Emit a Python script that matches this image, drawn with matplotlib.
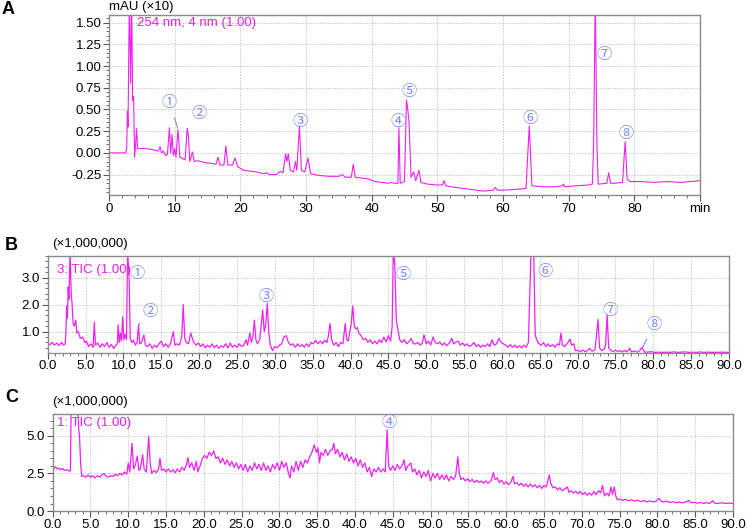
import matplotlib
matplotlib.use('Agg')
import matplotlib.pyplot as plt
from matplotlib.ticker import MultipleLocator, FormatStrFormatter, FixedLocator

plt.rcParams['font.family'] = ['Liberation Sans', 'DejaVu Sans', 'Noto Sans CJK JP']

# ---- A: UV trace at 254 nm, mAU (x10) vs min ----
a_points = [
    (0, 0.0), (2.5, 0.0), (2.7, 0.05), (2.8, 0.48), (2.9, 0.3), (3.1, 1.8), (3.3, 0.8), (3.45, 1.8),
    (3.6, 0.6), (3.75, 0.65), (3.9, -0.05), (4.05, 0.1), (4.2, 0.28), (4.35, 0.05), (4.6, 0.05),
    (5.5, 0.05), (6.5, 0.04), (7.5, 0.02), (7.8, 0.07), (8.0, 0.0), (8.3, 0.02), (8.6, -0.03),
    (8.9, -0.02), (9.2, 0.29), (9.4, 0.0), (9.6, 0.21), (9.8, -0.03), (10.0, 0.05), (10.2, -0.05),
    (10.5, 0.27), (10.8, -0.05), (11.3, -0.07), (11.6, -0.08), (11.9, 0.28), (12.1, 0.2), (12.3, -0.1),
    (12.7, 0.01), (13.0, -0.1), (13.5, -0.09), (14.5, -0.11), (15.5, -0.12), (16.3, -0.13), (16.6, -0.05),
    (16.9, -0.14), (17.5, -0.14), (17.8, 0.08), (18.1, -0.14), (18.8, -0.14), (19.2, -0.06), (19.6, -0.16),
    (20.5, -0.2), (21.5, -0.21), (22.5, -0.22), (23.5, -0.24), (24, -0.23), (24.4, -0.25), (25.5, -0.25),
    (26.1, -0.21), (26.5, -0.23), (26.9, -0.01), (27.1, -0.1), (27.3, -0.01), (27.6, -0.2), (28.1, -0.22),
    (28.4, -0.1), (28.6, -0.2), (29.0, 0.31), (29.3, -0.2), (29.8, -0.22), (30.3, -0.06), (30.7, -0.24),
    (32, -0.26), (33.5, -0.27), (35, -0.27), (35.5, -0.25), (36, -0.28), (36.9, -0.28), (37.2, -0.13),
    (37.5, -0.28), (38.5, -0.29), (39.5, -0.3), (40.5, -0.33), (41.5, -0.34), (42.5, -0.35), (43, -0.34),
    (43.5, -0.35), (44.0, -0.35), (44.15, 0.29), (44.35, -0.35), (45.0, -0.33), (45.3, 0.61), (45.5, 0.5),
    (45.7, 0.35), (46.0, -0.28), (46.4, -0.22), (46.7, -0.32), (47.2, -0.2), (47.5, -0.34), (48.5, -0.36),
    (50, -0.37), (50.8, -0.37), (51.0, -0.32), (51.3, -0.38), (53, -0.4), (55, -0.42), (57, -0.44),
    (58.5, -0.43), (58.8, -0.4), (59.2, -0.43), (60, -0.43), (62, -0.42), (63.5, -0.41), (64.0, 0.31),
    (64.4, -0.38), (66, -0.39), (68, -0.39), (69.0, -0.38), (69.2, -0.36), (69.4, -0.39), (71, -0.38),
    (73, -0.37), (73.6, -0.36), (73.8, 0.1), (74.05, 1.8), (74.3, 0.1), (74.5, -0.36), (75.8, -0.35),
    (76.1, -0.23), (76.4, -0.35), (77, -0.35), (78.2, -0.34), (78.6, 0.13), (78.9, -0.3), (79.3, -0.33),
    (81, -0.33), (83, -0.34), (85, -0.33), (87, -0.34), (90, -0.32),
]

# ---- B: TIC 3 (x1,000,000) ----
b_points = [
    (0.0, 0.58), (0.3, 0.52), (0.6, 0.6), (0.9, 0.5), (1.2, 0.58), (1.5, 0.48), (1.8, 0.6), (2.1, 0.5),
    (2.3, 0.55), (2.4, 0.95), (2.5, 1.95), (2.6, 1.5), (2.7, 2.65), (2.8, 2.2), (2.95, 4.0), (3.1, 2.4),
    (3.2, 2.1), (3.35, 1.3), (3.5, 1.2), (3.7, 1.43), (3.85, 0.95), (4.05, 1.0), (4.3, 0.75), (4.6, 0.8),
    (4.9, 0.6), (5.1, 0.65), (5.4, 0.45), (5.7, 0.55), (6.0, 0.42), (6.15, 1.35), (6.3, 0.5), (6.6, 0.58),
    (6.9, 0.42), (7.2, 0.55), (7.5, 0.45), (7.8, 0.6), (8.1, 0.42), (8.4, 0.52), (8.7, 0.38), (9.0, 0.5),
    (9.2, 0.55), (9.3, 1.25), (9.45, 0.6), (9.6, 0.95), (9.75, 0.65), (9.9, 1.55), (10.05, 0.7), (10.2, 0.9),
    (10.4, 0.7), (10.55, 4.0), (10.75, 3.0), (10.9, 0.75), (11.1, 0.6), (11.3, 0.68), (11.6, 0.5), (11.8, 0.6),
    (12.0, 1.25), (12.15, 0.55), (12.4, 0.6), (12.7, 0.88), (12.9, 0.5), (13.2, 0.45), (13.5, 0.55), (13.8, 0.38),
    (14.1, 0.5), (14.4, 0.42), (14.7, 0.55), (15.0, 0.65), (15.3, 0.45), (15.6, 0.55), (15.9, 0.42), (16.2, 0.55),
    (16.6, 1.0), (16.8, 0.5), (17.1, 0.55), (17.4, 0.5), (17.7, 0.8), (17.9, 2.0), (18.1, 0.75), (18.3, 0.6),
    (18.6, 0.55), (18.9, 0.95), (19.1, 0.75), (19.3, 0.6), (19.6, 0.5), (19.9, 0.58), (20.2, 0.45), (20.5, 0.55),
    (20.8, 0.4), (21.1, 0.5), (21.4, 0.42), (21.7, 0.55), (22.0, 0.4), (22.3, 0.5), (22.6, 0.38), (22.9, 0.48),
    (23.2, 0.42), (23.5, 0.55), (23.8, 0.4), (24.1, 0.58), (24.4, 0.42), (24.7, 0.5), (25.0, 0.42), (25.3, 0.55),
    (25.6, 0.45), (25.9, 0.5), (26.2, 0.7), (26.4, 0.5), (26.7, 0.95), (26.9, 0.6), (27.1, 0.8), (27.3, 1.43),
    (27.5, 0.7), (27.7, 0.55), (28.0, 0.7), (28.4, 1.8), (28.6, 1.0), (28.8, 1.25), (29.0, 2.05), (29.2, 1.0),
    (29.4, 0.5), (29.7, 0.3), (30.0, 0.45), (30.3, 0.4), (30.6, 0.5), (30.9, 0.55), (31.2, 0.8), (31.5, 0.85),
    (31.8, 0.6), (32.1, 0.5), (32.4, 0.55), (32.7, 0.42), (33.0, 0.55), (33.3, 0.45), (33.6, 0.52), (33.9, 0.42),
    (34.2, 0.55), (34.5, 0.45), (34.8, 0.6), (35.1, 0.55), (35.4, 0.68), (35.7, 0.55), (36.0, 0.65), (36.3, 0.55),
    (36.6, 0.68), (36.9, 0.6), (37.1, 0.9), (37.3, 1.3), (37.5, 0.7), (37.8, 0.5), (38.1, 0.6), (38.4, 0.45),
    (38.7, 0.6), (39.0, 0.55), (39.3, 1.3), (39.5, 0.7), (39.7, 0.65), (39.9, 1.0), (40.1, 1.3), (40.3, 1.95),
    (40.5, 1.2), (40.7, 1.1), (40.9, 1.15), (41.1, 0.95), (41.4, 0.85), (41.7, 0.7), (42.0, 0.75), (42.3, 0.6),
    (42.6, 0.7), (42.9, 0.55), (43.2, 0.65), (43.5, 0.55), (43.8, 0.7), (44.1, 0.6), (44.4, 0.8), (44.7, 0.62),
    (45.0, 0.85), (45.3, 0.65), (45.5, 1.2), (45.65, 4.0), (45.85, 3.5), (46.05, 1.4), (46.25, 1.1), (46.5, 0.7),
    (46.8, 0.6), (47.1, 0.7), (47.4, 0.55), (47.7, 0.62), (48.0, 0.75), (48.3, 0.55), (48.6, 0.55), (48.9, 0.6),
    (49.2, 0.5), (49.5, 0.58), (49.7, 0.88), (50.0, 0.55), (50.3, 0.65), (50.6, 0.5), (50.9, 0.8), (51.2, 0.6),
    (51.5, 0.55), (51.8, 0.62), (52.1, 0.5), (52.4, 0.58), (52.7, 0.48), (53.0, 0.56), (53.4, 0.75), (53.6, 0.55),
    (53.9, 0.6), (54.2, 0.65), (54.5, 0.5), (54.8, 0.58), (55.1, 0.48), (55.4, 0.55), (55.7, 0.45), (56.0, 0.5),
    (56.3, 0.6), (56.6, 0.45), (56.9, 0.52), (57.2, 0.42), (57.5, 0.5), (57.8, 0.45), (58.1, 0.55), (58.4, 0.45),
    (58.7, 0.7), (59.0, 0.5), (59.3, 0.55), (59.6, 0.75), (59.9, 0.6), (60.2, 0.55), (60.5, 0.5), (60.8, 0.42),
    (61.1, 0.52), (61.4, 0.42), (61.7, 0.5), (62.0, 0.4), (62.3, 0.48), (62.6, 0.4), (62.9, 0.5), (63.2, 0.42),
    (63.5, 0.6), (63.7, 2.5), (63.85, 4.0), (64.2, 4.0), (64.4, 0.88), (64.6, 0.7), (64.9, 0.55), (65.2, 0.5),
    (65.5, 0.6), (65.8, 0.45), (66.1, 0.55), (66.4, 0.45), (66.7, 0.52), (67.0, 0.42), (67.3, 0.55), (67.6, 0.5),
    (67.8, 0.95), (68.0, 0.5), (68.3, 0.45), (68.6, 0.55), (69.0, 0.72), (69.2, 0.5), (69.5, 0.55), (69.7, 0.3),
    (70.0, 0.3), (70.4, 0.26), (70.7, 0.32), (71.0, 0.26), (71.3, 0.3), (71.6, 0.38), (71.9, 0.28), (72.3, 0.32),
    (72.7, 1.45), (72.9, 0.4), (73.2, 0.3), (73.5, 0.35), (73.7, 0.5), (73.9, 1.62), (74.1, 0.4), (74.4, 0.3),
    (74.7, 0.26), (75.0, 0.32), (75.3, 0.26), (75.6, 0.3), (75.9, 0.25), (76.2, 0.3), (76.5, 0.26), (76.9, 0.38),
    (77.1, 0.25), (77.5, 0.28), (77.9, 0.24), (78.2, 0.3), (78.5, 0.42), (78.8, 0.25), (79.2, 0.24), (79.7, 0.26),
    (80.2, 0.23), (80.7, 0.24), (81.2, 0.23), (81.7, 0.24), (82.2, 0.23), (82.7, 0.25), (83.2, 0.23), (83.7, 0.24),
    (84.2, 0.25), (84.7, 0.23), (85.2, 0.24), (85.7, 0.23), (86.2, 0.25), (86.7, 0.23), (87.2, 0.24), (88.0, 0.23),
    (89.0, 0.24), (90.0, 0.23),
]

# ---- C: TIC 1 (x1,000,000) ----
c_points = [
    (0.0, 3.0), (0.2, 2.85), (0.4, 2.95), (0.6, 2.8), (0.8, 2.85), (1.0, 2.75), (1.3, 2.82), (1.6, 2.7),
    (1.9, 2.75), (2.2, 2.65), (2.35, 2.7), (2.45, 7.0), (2.6, 7.0), (3.1, 7.0), (3.3, 7.0), (3.45, 5.4),
    (3.55, 5.0), (3.7, 3.2), (3.85, 2.3), (4.1, 2.35), (4.4, 2.25), (4.7, 2.4), (5.0, 2.25), (5.3, 2.35),
    (5.6, 2.2), (5.9, 2.35), (6.2, 2.25), (6.5, 2.4), (6.8, 2.5), (7.1, 2.3), (7.4, 2.25), (7.7, 2.35),
    (8.0, 2.3), (8.3, 2.45), (8.6, 2.35), (8.9, 2.5), (9.2, 2.4), (9.5, 2.6), (9.8, 2.45), (10.0, 3.2),
    (10.2, 2.6), (10.5, 4.5), (10.7, 2.8), (10.9, 3.0), (11.2, 3.65), (11.4, 2.7), (11.6, 2.8), (11.9, 3.75),
    (12.1, 2.8), (12.4, 2.6), (12.7, 4.95), (12.9, 3.2), (13.1, 2.5), (13.4, 2.7), (13.7, 2.55), (14.0, 2.8),
    (14.2, 3.5), (14.4, 2.7), (14.7, 2.8), (15.0, 2.6), (15.3, 2.8), (15.6, 2.6), (15.9, 2.75), (16.2, 2.55),
    (16.5, 2.8), (16.8, 2.6), (17.1, 2.9), (17.4, 2.7), (17.7, 3.1), (17.9, 3.55), (18.1, 2.9), (18.4, 3.2),
    (18.7, 2.7), (19.0, 3.3), (19.2, 2.6), (19.5, 3.0), (19.8, 3.5), (20.1, 3.7), (20.4, 3.5), (20.7, 3.9),
    (21.0, 3.7), (21.3, 4.0), (21.6, 3.5), (21.9, 3.6), (22.2, 3.2), (22.5, 3.5), (22.8, 3.1), (23.1, 3.4),
    (23.4, 3.0), (23.7, 3.3), (24.0, 2.9), (24.3, 3.2), (24.6, 2.8), (24.9, 3.1), (25.2, 2.7), (25.5, 3.1),
    (25.8, 2.6), (26.1, 3.0), (26.4, 2.7), (26.7, 3.2), (27.0, 2.8), (27.3, 3.1), (27.6, 2.7), (27.9, 3.2),
    (28.2, 2.7), (28.5, 3.0), (28.8, 2.6), (29.1, 3.1), (29.4, 2.8), (29.7, 3.2), (30.0, 2.7), (30.3, 3.3),
    (30.6, 2.9), (30.9, 3.2), (31.2, 2.5), (31.4, 2.2), (31.6, 3.0), (31.9, 2.6), (32.2, 3.3), (32.5, 2.7),
    (32.8, 3.3), (33.1, 2.9), (33.4, 3.4), (33.7, 3.2), (34.0, 3.6), (34.3, 3.9), (34.6, 4.4), (34.9, 3.9),
    (35.1, 4.2), (35.3, 3.2), (35.5, 3.9), (35.8, 3.7), (36.1, 4.1), (36.4, 3.7), (36.7, 4.0), (37.0, 4.1),
    (37.2, 4.5), (37.4, 3.8), (37.7, 4.1), (38.0, 3.6), (38.3, 3.9), (38.6, 3.4), (38.9, 3.8), (39.2, 3.3),
    (39.5, 3.6), (39.8, 3.2), (40.1, 3.5), (40.4, 3.0), (40.7, 3.4), (41.0, 2.9), (41.3, 3.2), (41.6, 2.6),
    (41.9, 2.9), (42.2, 2.3), (42.5, 2.8), (42.8, 2.6), (43.1, 2.9), (43.4, 2.6), (43.7, 2.8), (44.0, 2.6),
    (44.25, 5.4), (44.45, 3.0), (44.7, 2.7), (45.0, 3.0), (45.3, 2.7), (45.6, 3.1), (45.9, 2.8), (46.2, 3.0),
    (46.5, 3.4), (46.7, 2.7), (47.0, 3.0), (47.4, 3.2), (47.6, 2.6), (47.9, 2.8), (48.2, 2.4), (48.5, 2.7),
    (48.8, 2.2), (49.1, 2.6), (49.4, 2.3), (49.7, 2.7), (50.0, 2.0), (50.3, 2.5), (50.6, 2.2), (50.9, 2.5),
    (51.2, 2.1), (51.5, 2.4), (51.8, 2.1), (52.1, 2.4), (52.4, 2.0), (52.7, 2.3), (53.0, 2.1), (53.3, 2.3),
    (53.6, 3.6), (53.8, 2.5), (54.0, 2.1), (54.3, 2.2), (54.6, 2.0), (54.9, 2.15), (55.2, 1.95), (55.5, 2.1),
    (55.8, 1.9), (56.1, 2.05), (56.4, 1.9), (56.7, 2.0), (57.0, 1.85), (57.3, 2.0), (57.6, 1.85), (58.0, 2.0),
    (58.3, 2.55), (58.5, 2.1), (58.8, 2.2), (59.1, 1.9), (59.4, 2.05), (59.7, 1.8), (60.0, 1.95), (60.3, 1.75),
    (60.6, 1.9), (60.9, 2.3), (61.1, 1.8), (61.4, 1.9), (61.7, 1.7), (62.0, 1.85), (62.3, 1.65), (62.6, 1.8),
    (62.9, 1.6), (63.2, 1.8), (63.5, 1.6), (63.8, 1.75), (64.1, 1.55), (64.4, 1.7), (64.7, 1.5), (65.0, 1.7),
    (65.3, 1.6), (65.7, 2.4), (65.9, 1.8), (66.2, 1.55), (66.5, 1.6), (66.8, 1.4), (67.1, 1.55), (67.4, 1.35),
    (67.7, 1.45), (68.1, 1.6), (68.3, 1.25), (68.6, 1.35), (68.9, 1.2), (69.2, 1.3), (69.5, 1.15), (69.8, 1.3),
    (70.1, 1.1), (70.4, 1.25), (70.7, 1.05), (71.0, 1.2), (71.3, 1.05), (71.6, 1.3), (71.9, 1.1), (72.2, 1.35),
    (72.5, 1.2), (72.75, 1.7), (73.0, 1.0), (73.3, 1.2), (73.6, 1.0), (73.85, 1.6), (74.05, 1.1), (74.3, 1.6),
    (74.5, 1.0), (74.7, 0.75), (75.0, 0.8), (75.4, 0.7), (75.8, 0.78), (76.2, 0.68), (76.6, 0.75), (77.0, 0.65),
    (77.4, 0.72), (77.8, 0.62), (78.2, 0.7), (78.6, 0.6), (79.0, 0.68), (79.4, 0.6), (79.8, 0.65), (80.2, 0.85),
    (80.5, 0.65), (80.9, 0.6), (81.3, 0.66), (81.7, 0.56), (82.1, 0.62), (82.5, 0.55), (82.9, 0.6), (83.3, 0.54),
    (83.7, 0.6), (84.2, 0.7), (84.5, 0.55), (84.9, 0.58), (85.3, 0.52), (85.7, 0.57), (86.1, 0.5), (86.5, 0.56),
    (86.9, 0.5), (87.3, 0.68), (87.6, 0.52), (88.0, 0.5), (88.5, 0.55), (89.0, 0.5), (89.5, 0.53), (90.0, 0.5),
]

a_time = [p[0] for p in a_points]
a_signal = [p[1] for p in a_points]
b_time = [p[0] for p in b_points]
b_signal = [p[1] for p in b_points]
c_time = [p[0] for p in c_points]
c_signal = [p[1] for p in c_points]

trace_color = '#f020f0'
label_color = '#e81ee8'
mark_color = '#7b8cf2'
spine_color = '#8a8a8a'
mark_font = ['Noto Sans CJK JP', 'DejaVu Sans']


def style_axes(ax):
    for s in ax.spines.values():
        s.set_color(spine_color)
        s.set_linewidth(1.0)
    ax.tick_params(which='both', direction='out', color='#555555', labelsize=9.5, pad=1.5)
    ax.tick_params(which='major', length=4)
    ax.tick_params(which='minor', length=2.5)
    ax.grid(True, which='major', color='#c8c8c8', linestyle=(0, (1.5, 1.5)), linewidth=0.7)
    ax.set_axisbelow(True)


def circled(ax, txt, x, y):
    ax.text(x, y, txt, color=mark_color, fontsize=11, ha='center', va='center',
            family=mark_font, zorder=5)


def leader(ax, txt, peak_xy, text_xy):
    ax.annotate(txt, xy=peak_xy, xytext=text_xy, color=mark_color, fontsize=11,
                ha='center', va='center', family=mark_font,
                arrowprops=dict(arrowstyle='-', color=mark_color, lw=0.8, shrinkA=3, shrinkB=0),
                zorder=5)


fig = plt.figure(figsize=(7.47, 5.30), dpi=100)

# ---- panel A ----
axA = fig.add_axes([0.1459, 0.6321, 0.7912, 0.3396])
style_axes(axA)
axA.plot(a_time, a_signal, color=trace_color, lw=0.8)
axA.set_xlim(0, 90)
axA.set_ylim(-0.485, 1.588)
axA.xaxis.set_major_locator(FixedLocator(range(0, 91, 10)))
axA.set_xticklabels([str(v) for v in range(0, 81, 10)] + ['min'])
axA.xaxis.set_minor_locator(MultipleLocator(2))
axA.yaxis.set_major_locator(FixedLocator([-0.25, 0, 0.25, 0.5, 0.75, 1.0, 1.25, 1.5]))
axA.yaxis.set_major_formatter(FormatStrFormatter('%.2f'))
axA.yaxis.set_minor_locator(MultipleLocator(0.05))
axA.text(4.3, 1.495, '254 nm, 4 nm (1.00)', color=label_color, fontsize=9.5, va='center')
leader(axA, '①', (10.45, 0.29), (9.2, 0.58))
leader(axA, '②', (11.85, 0.28), (13.7, 0.45))
circled(axA, '③', 29.1, 0.36)
circled(axA, '④', 44.0, 0.36)
circled(axA, '⑤', 45.7, 0.705)
circled(axA, '⑥', 64.2, 0.40)
circled(axA, '⑦', 75.4, 1.13)
circled(axA, '⑧', 78.7, 0.224)
fig.text(109 / 747, 1 - 7 / 530, 'mAU (×10)', fontsize=9.5, va='center', ha='left')

# ---- panel B ----
axB = fig.add_axes([0.0639, 0.3345, 0.912, 0.183])
style_axes(axB)
axB.plot(b_time, b_signal, color=trace_color, lw=0.9)
axB.set_xlim(0, 90)
axB.set_ylim(0.22, 3.81)
axB.xaxis.set_major_locator(MultipleLocator(5))
axB.xaxis.set_major_formatter(FormatStrFormatter('%.1f'))
axB.xaxis.set_minor_locator(MultipleLocator(1))
axB.yaxis.set_major_locator(FixedLocator([1.0, 2.0, 3.0]))
axB.yaxis.set_major_formatter(FormatStrFormatter('%.1f'))
axB.yaxis.set_minor_locator(MultipleLocator(0.2))
axB.text(1.2, 3.28, '3: TIC (1.00)', color=label_color, fontsize=9.5, va='center')
circled(axB, '①', 11.76, 3.16)
leader(axB, '②', (11.97, 1.25), (13.5, 1.74))
circled(axB, '③', 28.9, 2.30)
circled(axB, '⑤', 46.9, 3.13)
circled(axB, '⑥', 65.7, 3.22)
circled(axB, '⑦', 74.3, 1.80)
leader(axB, '⑧', (78.6, 0.42), (80.1, 1.28))
fig.text(52 / 747, 1 - 244 / 530, '(×1,000,000)', fontsize=9.5, va='center', ha='left')

# ---- panel C ----
axC = fig.add_axes([0.0705, 0.0358, 0.9107, 0.183])
style_axes(axC)
axC.plot(c_time, c_signal, color=trace_color, lw=0.9)
axC.set_xlim(0, 90)
axC.set_ylim(0, 6.45)
axC.xaxis.set_major_locator(MultipleLocator(5))
axC.xaxis.set_major_formatter(FormatStrFormatter('%.1f'))
axC.xaxis.set_minor_locator(MultipleLocator(1))
axC.yaxis.set_major_locator(FixedLocator([0.0, 2.5, 5.0]))
axC.yaxis.set_major_formatter(FormatStrFormatter('%.1f'))
axC.yaxis.set_minor_locator(MultipleLocator(0.5))
axC.text(0.6, 5.85, '1: TIC (1.00)', color=label_color, fontsize=9.5, va='center')
circled(axC, '④', 44.5, 5.91)
fig.text(52 / 747, 1 - 402 / 530, '(×1,000,000)', fontsize=9.5, va='center', ha='left')

# panel letters
fig.text(8 / 747, 1 - 9 / 530, 'A', fontsize=13, fontweight='bold', ha='center', va='center')
fig.text(11.5 / 747, 1 - 245 / 530, 'B', fontsize=13, fontweight='bold', ha='center', va='center')
fig.text(11.5 / 747, 1 - 397 / 530, 'C', fontsize=13, fontweight='bold', ha='center', va='center')

fig.savefig('out.png', dpi=100)
